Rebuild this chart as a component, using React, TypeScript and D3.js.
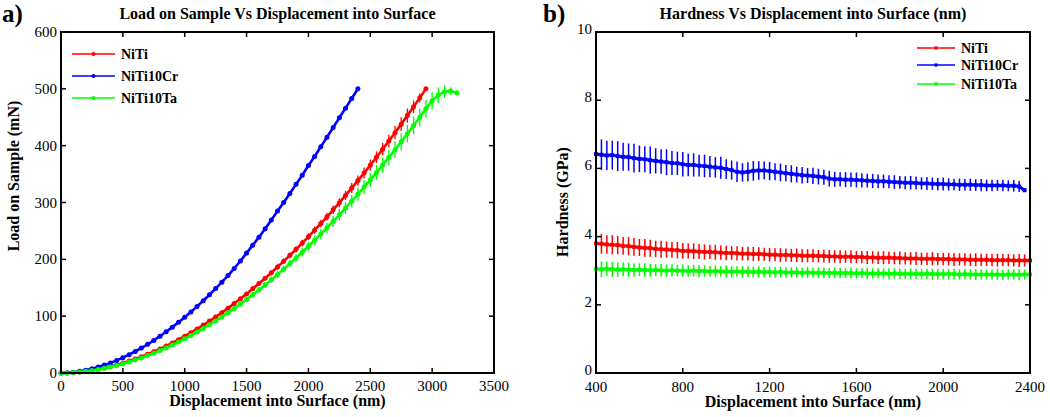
import React from "react";
import * as d3 from "d3";

// ---------- Panel a) Load vs displacement (sampled every 50 nm from 0) ----------
const loadStepNm = 50;
const loadNiTi = [
  0, 0.2, 0.8, 1.8, 3.1, 4.7, 6.7, 8.9, 11.5, 14.3,
  17.5, 20.9, 24.6, 28.7, 33.0, 37.6, 42.4, 47.6, 53.0, 58.7,
  64.7, 71.0, 77.5, 84.3, 91.3, 98.6, 106.2, 114.1, 122.2, 130.6,
  139.2, 148.2, 157.3, 166.7, 176.4, 186.4, 196.5, 207.0, 217.7, 228.6,
  239.9, 251.3, 263.0, 274.9, 287.2, 299.7, 312.4, 325.4, 338.5, 351.9,
  365.6, 379.5, 393.8, 408.2, 422.9, 437.9, 453.0, 468.4, 484.1, 500,
];
const loadNiTiErr = [
  0, 0, 0, 0, 0.1, 0.1, 0.2, 0.2, 0.3, 0.3,
  0.4, 0.5, 0.5, 0.6, 0.7, 0.8, 0.9, 1.0, 1.1, 1.2,
  1.4, 1.5, 1.7, 1.8, 2.0, 2.2, 2.4, 2.6, 2.8, 3.0,
  3.3, 3.5, 3.8, 4.0, 4.3, 4.6, 4.9, 5.2, 5.5, 5.8,
  6.1, 6.5, 6.8, 7.2, 7.5, 7.9, 8.3, 8.7, 9.1, 9.5,
  9.9, 10.4, 10.8, 11.3, 11.8, 12.3, 12.5, 11.0, 8.0, 2.0,
];
const loadNiTi10Cr = [
  0, 0.4, 1.4, 2.9, 4.9, 7.5, 10.5, 13.9, 17.8, 22.2,
  27.0, 32.2, 37.9, 44.0, 50.5, 57.4, 64.8, 72.5, 80.7, 89.2,
  98.1, 107.5, 117.2, 127.2, 137.7, 148.6, 159.8, 171.5, 184, 197,
  211, 225, 239, 254, 269, 285, 300, 316, 332, 348,
  365, 381, 398, 415, 432, 449, 466, 483, 500,
];
const loadNiTi10CrErr = [
  0, 0, 0, 0, 0, 0.1, 0.1, 0.2, 0.2, 0.3,
  0.3, 0.4, 0.4, 0.5, 0.5, 0.6, 0.6, 0.7, 0.8, 0.8,
  0.9, 1.0, 1.0, 1.1, 1.2, 1.2, 1.3, 1.4, 1.5, 1.5,
  1.6, 1.7, 1.8, 1.9, 2.0, 2.0, 2.1, 2.2, 2.3, 2.4,
  2.5, 2.6, 2.7, 2.8, 2.9, 3.0, 3.1, 3.2, 3.3,
];
const loadNiTi10Ta = [
  0, 0.2, 0.8, 1.7, 2.9, 4.4, 6.2, 8.3, 10.7, 13.3,
  16.2, 19.4, 22.9, 26.6, 30.7, 34.9, 39.5, 44.2, 49.3, 54.5,
  60.1, 66.0, 72.0, 78.3, 84.9, 91.7, 98.7, 106.0, 113.6, 121.4,
  129.4, 137.7, 146.2, 155.0, 164.0, 173.3, 182.8, 192.5, 202.4, 212.6,
  223.0, 233.6, 244.4, 255.5, 266.8, 278.4, 290.4, 302.4, 314.8, 327.3,
  339.8, 352.7, 365.9, 379.2, 392.9, 406.8, 421.1, 435.5, 450.0, 465.0,
  479, 489, 495, 496, 493,
];
const loadNiTi10TaErr = [
  0, 0, 0, 0, 0.1, 0.1, 0.2, 0.3, 0.3, 0.4,
  0.5, 0.6, 0.7, 0.8, 0.9, 1.0, 1.2, 1.3, 1.5, 1.6,
  1.8, 2.0, 2.2, 2.4, 2.6, 2.9, 3.1, 3.4, 3.7, 4.0,
  4.3, 4.6, 5.0, 5.3, 5.7, 6.0, 6.4, 6.8, 7.2, 7.6,
  8.0, 8.4, 8.9, 9.3, 9.8, 10.2, 10.7, 11.2, 11.7, 12.2,
  12.7, 13.2, 13.7, 14.2, 14.7, 15.2, 15.5, 15.8, 16.0, 16.0,
  15.5, 14.0, 11.0, 7.0, 1.0,
];
const loadXTicks = [0, 500, 1000, 1500, 2000, 2500, 3000, 3500];
const loadYTicks = [0, 100, 200, 300, 400, 500, 600];

// ---------- Panel b) Hardness vs displacement (sampled every 25 nm from 400) ----------
const hardStart = 400;
const hardStepNm = 25;
const hardNiTi = [
  3.80, 3.79, 3.77, 3.76, 3.75, 3.73, 3.72, 3.70, 3.68, 3.67,
  3.66, 3.64, 3.63, 3.62, 3.61, 3.60, 3.58, 3.58, 3.57, 3.56,
  3.55, 3.55, 3.54, 3.53, 3.52, 3.52, 3.51, 3.50, 3.50, 3.49,
  3.49, 3.48, 3.47, 3.47, 3.46, 3.46, 3.45, 3.45, 3.44, 3.44,
  3.44, 3.43, 3.43, 3.42, 3.42, 3.41, 3.41, 3.41, 3.40, 3.40,
  3.39, 3.39, 3.38, 3.38, 3.38, 3.37, 3.37, 3.36, 3.36, 3.36,
  3.35, 3.35, 3.35, 3.34, 3.34, 3.34, 3.33, 3.33, 3.33, 3.32,
  3.32, 3.32, 3.32, 3.31, 3.31, 3.31, 3.31, 3.30, 3.30, 3.30,
  3.30,
];
const hardNiTiErr = [
  0.28, 0.29, 0.27, 0.28, 0.27, 0.26, 0.27, 0.26, 0.25, 0.26,
  0.25, 0.24, 0.25, 0.24, 0.23, 0.24, 0.23, 0.22, 0.23, 0.22,
  0.22, 0.21, 0.22, 0.21, 0.21, 0.20, 0.21, 0.20, 0.20, 0.21,
  0.20, 0.19, 0.20, 0.19, 0.20, 0.19, 0.19, 0.20, 0.19, 0.19,
  0.19, 0.18, 0.19, 0.19, 0.18, 0.19, 0.18, 0.19, 0.18, 0.18,
  0.19, 0.18, 0.18, 0.19, 0.18, 0.18, 0.19, 0.18, 0.18, 0.19,
  0.18, 0.18, 0.19, 0.18, 0.18, 0.18, 0.19, 0.18, 0.18, 0.18,
  0.19, 0.18, 0.18, 0.18, 0.19, 0.18, 0.18, 0.18, 0.19, 0.18,
  0.18,
];
const hardNiTi10Cr = [
  6.42, 6.40, 6.38, 6.39, 6.36, 6.34, 6.33, 6.30, 6.28, 6.27,
  6.24, 6.22, 6.20, 6.18, 6.16, 6.15, 6.12, 6.10, 6.10, 6.08,
  6.07, 6.05, 6.03, 6.02, 5.98, 5.95, 5.90, 5.88, 5.90, 5.93,
  5.94, 5.94, 5.92, 5.90, 5.88, 5.86, 5.84, 5.82, 5.80, 5.79,
  5.78, 5.76, 5.74, 5.70, 5.68, 5.68, 5.67, 5.67, 5.66, 5.65,
  5.64, 5.63, 5.62, 5.62, 5.61, 5.60, 5.59, 5.58, 5.58, 5.57,
  5.56, 5.56, 5.55, 5.54, 5.54, 5.53, 5.53, 5.52, 5.52, 5.52,
  5.51, 5.51, 5.50, 5.50, 5.50, 5.50, 5.49, 5.49, 5.47, 5.36,
];
const hardNiTi10CrErr = [
  0.44, 0.45, 0.43, 0.42, 0.44, 0.41, 0.40, 0.42, 0.39, 0.38,
  0.40, 0.37, 0.36, 0.38, 0.35, 0.34, 0.36, 0.33, 0.34, 0.32,
  0.33, 0.31, 0.30, 0.32, 0.29, 0.28, 0.30, 0.27, 0.28, 0.29,
  0.27, 0.26, 0.27, 0.25, 0.26, 0.24, 0.25, 0.23, 0.24, 0.22,
  0.24, 0.23, 0.22, 0.23, 0.22, 0.21, 0.22, 0.21, 0.22, 0.21,
  0.20, 0.21, 0.20, 0.20, 0.19, 0.20, 0.19, 0.19, 0.20, 0.19,
  0.18, 0.19, 0.18, 0.18, 0.19, 0.18, 0.17, 0.18, 0.17, 0.18,
  0.17, 0.18, 0.17, 0.17, 0.16, 0.17, 0.16, 0.17, 0.16, 0.05,
];
const hardNiTi10Ta = [
  3.05, 3.04, 3.06, 3.04, 3.03, 3.04, 3.03, 3.02, 3.03, 3.02,
  3.01, 3.02, 3.01, 3.00, 3.01, 3.00, 3.00, 2.99, 3.00, 2.99,
  2.99, 2.98, 2.99, 2.98, 2.98, 2.97, 2.98, 2.97, 2.97, 2.96,
  2.97, 2.96, 2.96, 2.95, 2.96, 2.95, 2.95, 2.95, 2.94, 2.95,
  2.94, 2.94, 2.94, 2.93, 2.94, 2.93, 2.93, 2.93, 2.92, 2.93,
  2.92, 2.92, 2.92, 2.92, 2.91, 2.92, 2.91, 2.91, 2.91, 2.91,
  2.90, 2.91, 2.90, 2.90, 2.90, 2.90, 2.90, 2.89, 2.90, 2.89,
  2.89, 2.89, 2.89, 2.89, 2.89, 2.88, 2.89, 2.89, 2.88, 2.89,
  2.89,
];
const hardNiTi10TaErr = [
  0.22, 0.23, 0.21, 0.22, 0.21, 0.20, 0.21, 0.20, 0.19, 0.20,
  0.19, 0.18, 0.19, 0.18, 0.18, 0.17, 0.18, 0.17, 0.17, 0.18,
  0.17, 0.16, 0.17, 0.16, 0.17, 0.16, 0.16, 0.17, 0.16, 0.16,
  0.16, 0.15, 0.16, 0.16, 0.15, 0.16, 0.15, 0.16, 0.15, 0.16,
  0.15, 0.16, 0.15, 0.15, 0.16, 0.15, 0.15, 0.16, 0.15, 0.15,
  0.16, 0.15, 0.15, 0.15, 0.16, 0.15, 0.15, 0.15, 0.16, 0.15,
  0.15, 0.15, 0.16, 0.15, 0.15, 0.15, 0.16, 0.15, 0.15, 0.15,
  0.16, 0.15, 0.15, 0.15, 0.16, 0.15, 0.15, 0.15, 0.16, 0.15,
  0.15,
];
const hardXTicks = [400, 800, 1200, 1600, 2000, 2400];
const hardYTicks = [0, 2, 4, 6, 8, 10];

const seriesNames = ["NiTi", "NiTi10Cr", "NiTi10Ta"];
const seriesColors = ["#ff0000", "#0000ff", "#00ff00"];

type Series = { name: string; color: string; x: number[]; y: number[]; e: number[] };

function mk(name: string, color: string, y: number[], e: number[], start: number, step: number): Series {
  return { name, color, y, e, x: y.map((_, i) => start + i * step) };
}

const loadSeries: Series[] = [
  mk(seriesNames[0], seriesColors[0], loadNiTi, loadNiTiErr, 0, loadStepNm),
  mk(seriesNames[1], seriesColors[1], loadNiTi10Cr, loadNiTi10CrErr, 0, loadStepNm),
  mk(seriesNames[2], seriesColors[2], loadNiTi10Ta, loadNiTi10TaErr, 0, loadStepNm),
];
const hardSeries: Series[] = [
  mk(seriesNames[0], seriesColors[0], hardNiTi, hardNiTiErr, hardStart, hardStepNm),
  mk(seriesNames[1], seriesColors[1], hardNiTi10Cr, hardNiTi10CrErr, hardStart, hardStepNm),
  mk(seriesNames[2], seriesColors[2], hardNiTi10Ta, hardNiTi10TaErr, hardStart, hardStepNm),
];

const SERIF = "Liberation Serif, Times New Roman, DejaVu Serif, serif";
const fs = (size: number, bold = false): React.CSSProperties => ({
  fontFamily: SERIF,
  fontSize: size + "px",
  fontWeight: bold ? 700 : 400,
});

type PanelProps = {
  left: number; right: number; top: number; bottom: number;
  xDomain: [number, number]; yDomain: [number, number];
  xTicks: number[]; yTicks: number[];
  series: Series[];
  marker: "circle" | "square";
  title: string; letter: string; letterX: number;
  xLabel: string; yLabel: string; yLabelX: number; yLabelY: number;
  xTickY: number; xLabelY: number; yTickDy: number;
  legendX: number; legendYs: number[]; legendLen: number;
  lineW: number; errW: number; markSize: number;
};

function Panel(p: PanelProps) {
  const x = d3.scaleLinear().domain(p.xDomain).range([p.left, p.right]);
  const y = d3.scaleLinear().domain(p.yDomain).range([p.bottom, p.top]);
  const line = d3.line<[number, number]>();
  const tl = 5;
  const cx = (p.left + p.right) / 2;
  const ms = p.markSize;
  return (
    <g>
      <text x={p.letterX} y={22} style={fs(25, true)}>{p.letter}</text>
      <text x={cx} y={19} textAnchor="middle" style={fs(16, true)}>{p.title}</text>
      <g>
        {p.series.map((s) => (
          <g key={s.name}>
            {s.x.map((xv, i) =>
              s.e[i] > 0 ? (
                <line key={"e" + i} x1={x(xv)} x2={x(xv)} y1={y(s.y[i] - s.e[i])} y2={y(s.y[i] + s.e[i])}
                  stroke={s.color} strokeWidth={p.errW} />
              ) : null
            )}
            <path d={line(s.x.map((xv, i) => [x(xv), y(s.y[i])] as [number, number])) || ""}
              fill="none" stroke={s.color} strokeWidth={p.lineW} strokeLinejoin="round" />
            {s.x.map((xv, i) =>
              p.marker === "circle" ? (
                <circle key={"m" + i} cx={x(xv)} cy={y(s.y[i])} r={ms / 2} fill={s.color} />
              ) : (
                <rect key={"m" + i} x={x(xv) - ms / 2} y={y(s.y[i]) - ms / 2} width={ms} height={ms} fill={s.color} />
              )
            )}
          </g>
        ))}
      </g>
      <g>
        {p.series.map((s, i) => {
          const ly = p.legendYs[i];
          const mx = p.legendX + p.legendLen / 2;
          return (
            <g key={"lg" + s.name}>
              <line x1={p.legendX} x2={p.legendX + p.legendLen} y1={ly} y2={ly} stroke={s.color} strokeWidth={1.5} />
              {p.marker === "circle" ? (
                <circle cx={mx} cy={ly} r={2} fill={s.color} />
              ) : (
                <rect x={mx - 1.6} y={ly - 1.6} width={3.2} height={3.2} fill={s.color} />
              )}
              <text x={p.legendX + p.legendLen + 6} y={ly + 5} style={fs(14, true)}>{s.name}</text>
            </g>
          );
        })}
      </g>
      <rect x={p.left} y={p.top} width={p.right - p.left} height={p.bottom - p.top} fill="none" stroke="#000" strokeWidth={2} />
      {p.xTicks.map((t) => (
        <g key={"xt" + t}>
          <line x1={x(t)} x2={x(t)} y1={p.bottom} y2={p.bottom - tl} stroke="#000" strokeWidth={1.5} />
          <line x1={x(t)} x2={x(t)} y1={p.top} y2={p.top + tl} stroke="#000" strokeWidth={1.5} />
          <text x={x(t)} y={p.xTickY} textAnchor="middle" style={fs(15)}>{t}</text>
        </g>
      ))}
      {p.yTicks.map((t) => (
        <g key={"yt" + t}>
          <line x1={p.left} x2={p.left + tl} y1={y(t)} y2={y(t)} stroke="#000" strokeWidth={1.5} />
          <line x1={p.right} x2={p.right - tl} y1={y(t)} y2={y(t)} stroke="#000" strokeWidth={1.5} />
          <text x={p.left - 4} y={y(t) + p.yTickDy} textAnchor="end" style={fs(15)}>{t}</text>
        </g>
      ))}
      <text x={cx} y={p.xLabelY} textAnchor="middle" style={fs(16, true)}>{p.xLabel}</text>
      <text transform={`translate(${p.yLabelX},${p.yLabelY}) rotate(-90)`} textAnchor="middle"
        style={fs(16, true)}>{p.yLabel}</text>
    </g>
  );
}

export default function App() {
  return (
    <svg width={1050} height={417} style={{ position: "absolute", left: 0, top: 0, background: "#fff" }}>
      <rect x={0} y={0} width={1050} height={417} fill="#fff" />
      <Panel
        left={61} right={494} top={32} bottom={373}
        xDomain={[0, 3500]} yDomain={[0, 600]}
        xTicks={loadXTicks} yTicks={loadYTicks}
        series={loadSeries} marker="circle"
        title="Load on Sample Vs Displacement into Surface" letter="a)" letterX={2}
        xLabel="Displacement into Surface (nm)" yLabel="Load on Sample (mN)" yLabelX={19} yLabelY={176}
        xTickY={391} xLabelY={406} yTickDy={5}
        legendX={72} legendYs={[54, 76, 98]} legendLen={43}
        lineW={2.6} errW={1.3} markSize={5}
      />
      <Panel
        left={596} right={1030} top={32} bottom={373}
        xDomain={[400, 2400]} yDomain={[0, 10]}
        xTicks={hardXTicks} yTicks={hardYTicks}
        series={hardSeries} marker="square"
        title="Hardness Vs Displacement into Surface (nm)" letter="b)" letterX={543}
        xLabel="Displacement into Surface (nm)" yLabel="Hardness (GPa)" yLabelX={568} yLabelY={202}
        xTickY={392} xLabelY={407} yTickDy={2}
        legendX={917} legendYs={[48, 65, 84]} legendLen={38}
        lineW={3} errW={1.5} markSize={4}
      />
    </svg>
  );
}
